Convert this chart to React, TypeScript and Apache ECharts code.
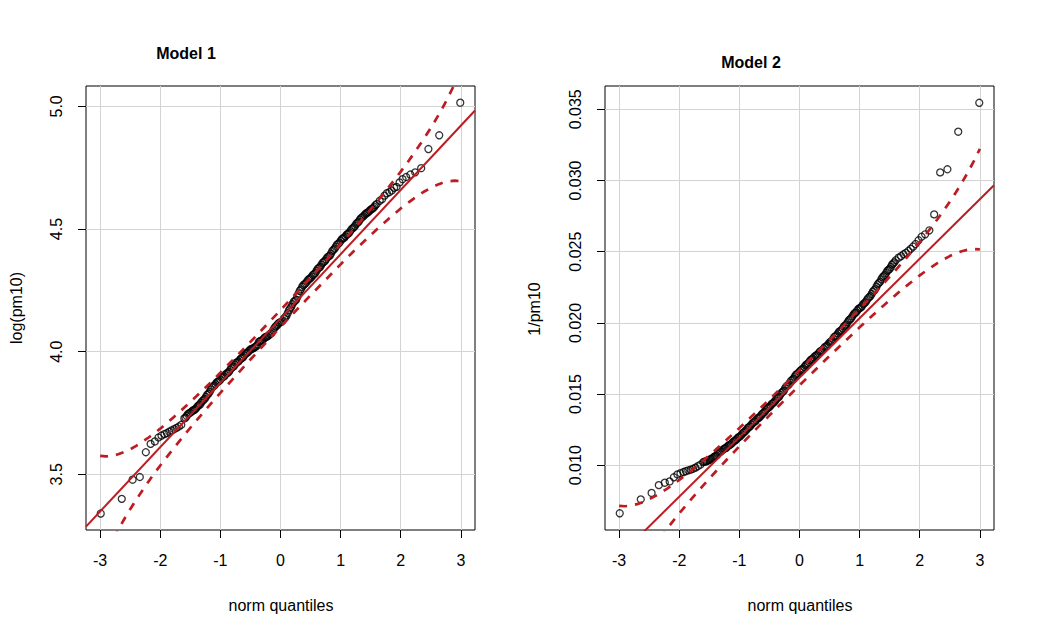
import React, { useEffect, useRef } from "react";
import * as echarts from "echarts";

// ---------- data ----------
const titles = ["Model 1", "Model 2"];
const yAxisNames = ["log(pm10)", "1/pm10"];
const xAxisName = "norm quantiles";

const xTicks = [-3, -2, -1, 0, 1, 2, 3];
const model1YTicks = [3.5, 4.0, 4.5, 5.0];
const model2YTicks = [0.01, 0.015, 0.02, 0.025, 0.03, 0.035];

// theoretical normal quantiles (shared by both panels, same n)
const lowerTailZ = [-2.99, -2.64, -2.46, -2.34, -2.24, -2.16, -2.09, -2.03, -1.98, -1.93, -1.89, -1.85, -1.81, -1.77, -1.73, -1.69, -1.65];
const coreZ = [
  -1.6, -1.58, -1.56, -1.54, -1.52, -1.5, -1.48, -1.46, -1.44, -1.42,
  -1.4, -1.38, -1.36, -1.34, -1.32, -1.3, -1.28, -1.26, -1.24, -1.22,
  -1.2, -1.18, -1.16, -1.14, -1.12, -1.1, -1.08, -1.06, -1.04, -1.02,
  -1.0, -0.98, -0.96, -0.94, -0.92, -0.9, -0.88, -0.86, -0.84, -0.82,
  -0.8, -0.78, -0.76, -0.74, -0.72, -0.7, -0.68, -0.66, -0.64, -0.62,
  -0.6, -0.58, -0.56, -0.54, -0.52, -0.5, -0.48, -0.46, -0.44, -0.42,
  -0.4, -0.38, -0.36, -0.34, -0.32, -0.3, -0.28, -0.26, -0.24, -0.22,
  -0.2, -0.18, -0.16, -0.14, -0.12, -0.1, -0.08, -0.06, -0.04, -0.02,
  0.0,
  0.02, 0.04, 0.06, 0.08, 0.1, 0.12, 0.14, 0.16, 0.18, 0.2,
  0.22, 0.24, 0.26, 0.28, 0.3, 0.32, 0.34, 0.36, 0.38, 0.4,
  0.42, 0.44, 0.46, 0.48, 0.5, 0.52, 0.54, 0.56, 0.58, 0.6,
  0.62, 0.64, 0.66, 0.68, 0.7, 0.72, 0.74, 0.76, 0.78, 0.8,
  0.82, 0.84, 0.86, 0.88, 0.9, 0.92, 0.94, 0.96, 0.98, 1.0,
  1.02, 1.04, 1.06, 1.08, 1.1, 1.12, 1.14, 1.16, 1.18, 1.2,
  1.22, 1.24, 1.26, 1.28, 1.3, 1.32, 1.34, 1.36, 1.38, 1.4,
  1.42, 1.44, 1.46, 1.48, 1.5, 1.52, 1.54, 1.56, 1.58, 1.6,
];
const upperTailZ = [1.65, 1.69, 1.73, 1.77, 1.81, 1.85, 1.89, 1.93, 1.98, 2.03, 2.09, 2.16, 2.24, 2.34, 2.46, 2.64, 2.99];

// Model 1: log(pm10), sorted sample
const model1LowerTail = [3.34, 3.4, 3.478, 3.489, 3.59, 3.624, 3.634, 3.65, 3.658, 3.664, 3.668, 3.674, 3.679, 3.684, 3.689, 3.695, 3.702];
const model1Core = [
  3.728, 3.731, 3.738, 3.745, 3.749, 3.751, 3.756, 3.76, 3.762, 3.765,
  3.77, 3.777, 3.781, 3.785, 3.792, 3.799, 3.803, 3.808, 3.816, 3.824,
  3.828, 3.835, 3.846, 3.854, 3.859, 3.862, 3.868, 3.875, 3.878, 3.881,
  3.886, 3.894, 3.897, 3.899, 3.905, 3.911, 3.913, 3.917, 3.925, 3.933,
  3.937, 3.94, 3.947, 3.954, 3.957, 3.96, 3.966, 3.972, 3.975, 3.978,
  3.985, 3.992, 3.995, 3.998, 4.004, 4.009, 4.011, 4.013, 4.016, 4.02,
  4.022, 4.029, 4.04, 4.043, 4.045, 4.047, 4.052, 4.058, 4.06, 4.062,
  4.066, 4.071, 4.074, 4.079, 4.088, 4.097, 4.103, 4.107, 4.113, 4.118,
  4.12,
  4.123, 4.128, 4.136, 4.14, 4.146, 4.157, 4.168, 4.176, 4.183, 4.194,
  4.203, 4.207, 4.212, 4.222, 4.237, 4.248, 4.254, 4.264, 4.271, 4.275,
  4.279, 4.286, 4.293, 4.297, 4.3, 4.306, 4.313, 4.316, 4.321, 4.33,
  4.338, 4.342, 4.346, 4.354, 4.362, 4.366, 4.37, 4.377, 4.385, 4.388,
  4.392, 4.4, 4.41, 4.415, 4.42, 4.428, 4.436, 4.44, 4.444, 4.452,
  4.459, 4.462, 4.465, 4.47, 4.477, 4.48, 4.484, 4.491, 4.499, 4.503,
  4.507, 4.513, 4.521, 4.526, 4.53, 4.538, 4.545, 4.548, 4.552, 4.558,
  4.563, 4.566, 4.569, 4.574, 4.579, 4.582, 4.585, 4.59, 4.597, 4.602,
];
const model1UpperTail = [4.615, 4.622, 4.636, 4.646, 4.65, 4.657, 4.668, 4.672, 4.69, 4.703, 4.712, 4.722, 4.731, 4.748, 4.826, 4.882, 5.015];

// Model 2: 1/pm10, sorted sample
const model2LowerTail = [0.00662, 0.0076, 0.00805, 0.0086, 0.00877, 0.00886, 0.00915, 0.00935, 0.00944, 0.00952, 0.00958, 0.00964, 0.00969, 0.00975, 0.00983, 0.00993, 0.01003];
const model2Core = [
  0.01022, 0.01025, 0.01027, 0.01029, 0.01033, 0.01038, 0.01042, 0.01045, 0.01052, 0.01059,
  0.01063, 0.01068, 0.01079, 0.01089, 0.01095, 0.01099, 0.01107, 0.01114, 0.01118, 0.01122,
  0.01131, 0.01139, 0.01143, 0.01147, 0.01157, 0.01166, 0.01172, 0.01176, 0.01186, 0.01195,
  0.012, 0.01205, 0.01216, 0.01227, 0.01233, 0.01239, 0.01251, 0.01262, 0.01268, 0.01273,
  0.01285, 0.01296, 0.01302, 0.01307, 0.01317, 0.01328, 0.01333, 0.01338, 0.0135, 0.01361,
  0.01368, 0.01374, 0.01387, 0.01398, 0.01404, 0.01409, 0.0142, 0.01431, 0.01437, 0.01443,
  0.01455, 0.01467, 0.01474, 0.01481, 0.01495, 0.01508, 0.01516, 0.01524, 0.0154, 0.01553,
  0.0156, 0.01566, 0.0158, 0.01593, 0.016, 0.01607, 0.01622, 0.01634, 0.01641, 0.01646,
  0.01657,
  0.01667, 0.01672, 0.01678, 0.0169, 0.01702, 0.01708, 0.01714, 0.01725, 0.01737, 0.01743,
  0.01748, 0.01758, 0.01767, 0.01772, 0.01777, 0.01787, 0.01798, 0.01803, 0.01808, 0.01818,
  0.01829, 0.01834, 0.01839, 0.0185, 0.01862, 0.01868, 0.01874, 0.01888, 0.01901, 0.01907,
  0.01913, 0.01926, 0.01938, 0.01944, 0.0195, 0.01962, 0.01975, 0.01982, 0.01989, 0.02004,
  0.02018, 0.02025, 0.02032, 0.02046, 0.0206, 0.02068, 0.02074, 0.02087, 0.02098, 0.02103,
  0.02108, 0.02118, 0.02131, 0.02138, 0.02145, 0.0216, 0.02173, 0.0218, 0.02188, 0.02203,
  0.02219, 0.02228, 0.02237, 0.02254, 0.02271, 0.0228, 0.02289, 0.02305, 0.0232, 0.02328,
  0.02336, 0.0235, 0.02365, 0.02372, 0.02379, 0.02393, 0.02409, 0.02418, 0.02426, 0.0244,
];
const model2UpperTail = [0.02458, 0.02469, 0.02482, 0.02492, 0.02505, 0.0252, 0.02536, 0.02554, 0.0258, 0.02605, 0.02622, 0.0265, 0.02762, 0.03057, 0.03079, 0.03343, 0.03546];

// reference lines (end points at the plot's x limits)
const lineZ = [-3.235, 3.235];
const model1Line = [3.287, 4.983];
const model2Line = [0.00263, 0.02967];

// pointwise confidence envelope
const envelopeZ = [
  -3.0, -2.9, -2.8, -2.7, -2.6, -2.5, -2.4, -2.3, -2.2, -2.1, -2.0, -1.8, -1.6, -1.4, -1.2, -1.0, -0.5, 0,
  0.5, 1.0, 1.2, 1.4, 1.6, 1.8, 2.0, 2.1, 2.2, 2.3, 2.4, 2.5, 2.6, 2.7, 2.8, 2.9, 3.0,
];
const model1Upper = [
  3.575, 3.573, 3.575, 3.582, 3.591, 3.602, 3.616, 3.632, 3.649, 3.667, 3.686, 3.728, 3.772, 3.818, 3.865, 3.914, 4.04, 4.169,
  4.302, 4.438, 4.494, 4.551, 4.61, 4.671, 4.734, 4.767, 4.802, 4.837, 4.874, 4.912, 4.953, 4.996, 5.043, 5.093, 5.147,
];
const model1Lower = [
  3.123, 3.177, 3.227, 3.274, 3.317, 3.358, 3.396, 3.433, 3.469, 3.503, 3.536, 3.599, 3.66, 3.719, 3.776, 3.832, 3.968, 4.101,
  4.23, 4.356, 4.405, 4.452, 4.498, 4.542, 4.584, 4.603, 4.621, 4.638, 4.654, 4.668, 4.679, 4.689, 4.695, 4.697, 4.695,
];
const model2Upper = [
  0.007139, 0.007117, 0.007163, 0.007267, 0.007418, 0.007609, 0.007833, 0.008085, 0.00836, 0.008655, 0.008967, 0.00963, 0.010336,
  0.011073, 0.011834, 0.012613, 0.014619, 0.016684, 0.018799, 0.020973, 0.021866, 0.022777, 0.023712, 0.024678, 0.025687,
  0.026211, 0.026752, 0.027313, 0.027897, 0.028509, 0.029154, 0.029839, 0.030571, 0.031361, 0.032219,
];
const model2Lower = [
  0.000081, 0.000939, 0.001729, 0.002461, 0.003146, 0.003791, 0.004403, 0.004987, 0.005548, 0.006089, 0.006613, 0.007622, 0.008588,
  0.009523, 0.010434, 0.011327, 0.013501, 0.015616, 0.017681, 0.019687, 0.020466, 0.021227, 0.021964, 0.02267, 0.023333,
  0.023645, 0.02394, 0.024215, 0.024467, 0.024691, 0.024882, 0.025033, 0.025137, 0.025183, 0.025161,
];

// ---------- chart ----------
const FONT = '"Liberation Sans", Arial, sans-serif';
const RED = "#BC1C22";
const GRID_GRAY = "#d3d3d3";

const normQuantiles = [...lowerTailZ, ...coreZ, ...upperTailZ];
const model1Sample = [...model1LowerTail, ...model1Core, ...model1UpperTail];
const model2Sample = [...model2LowerTail, ...model2Core, ...model2UpperTail];

const pairs = (xs: number[], ys: number[]) => xs.map((x, i) => [x, ys[i]]);

function buildOption() {
  const grids = [
    { left: 86, top: 86, width: 389, height: 444 },
    { left: 605, top: 86, width: 389, height: 444 },
  ].map((g) => ({ ...g, show: true, borderColor: "#000", borderWidth: 1, backgroundColor: "transparent" }));

  const xAxisFor = (gi: number) => ({
    type: "value",
    gridIndex: gi,
    min: -3.235,
    max: 3.235,
    axisLine: { show: false, onZero: false },
    axisTick: { show: true, length: 8, lineStyle: { color: "#000", width: 1 }, customValues: xTicks },
    axisLabel: {
      customValues: xTicks,
      fontSize: 16,
      fontFamily: FONT,
      color: "#000",
      margin: 22,
      formatter: (v: number) => String(v),
    },
    splitLine: { show: true, lineStyle: { color: GRID_GRAY, width: 1 } },
  });

  const yAxisFor = (gi: number, min: number, max: number, ticks: number[], digits: number) => ({
    type: "value",
    gridIndex: gi,
    min,
    max,
    axisLine: { show: false, onZero: false },
    axisTick: { show: true, length: 8, lineStyle: { color: "#000", width: 1 }, customValues: ticks },
    axisLabel: {
      customValues: ticks,
      rotate: 90,
      fontSize: 16,
      fontFamily: FONT,
      color: "#000",
      margin: 22,
      formatter: (v: number) => v.toFixed(digits),
    },
    splitLine: { show: true, lineStyle: { color: GRID_GRAY, width: 1 } },
  });

  const panel = (gi: number, sample: number[], line: number[], upper: number[], lower: number[]) => [
    {
      type: "scatter",
      xAxisIndex: gi,
      yAxisIndex: gi,
      data: pairs(normQuantiles, sample),
      symbol: "circle",
      symbolSize: 7,
      itemStyle: { color: "transparent", borderColor: "#000", borderWidth: 1.3 },
      z: 2,
      silent: true,
    },
    {
      type: "line",
      xAxisIndex: gi,
      yAxisIndex: gi,
      data: pairs(lineZ, line),
      symbol: "none",
      lineStyle: { color: RED, width: 2 },
      z: 3,
      silent: true,
    },
    {
      type: "line",
      xAxisIndex: gi,
      yAxisIndex: gi,
      data: pairs(envelopeZ, upper),
      symbol: "none",
      lineStyle: { color: RED, width: 2.7, type: [8, 8], cap: "butt" },
      z: 3,
      silent: true,
    },
    {
      type: "line",
      xAxisIndex: gi,
      yAxisIndex: gi,
      data: pairs(envelopeZ, lower),
      symbol: "none",
      lineStyle: { color: RED, width: 2.7, type: [8, 8], cap: "butt" },
      z: 3,
      silent: true,
    },
  ];

  const text = (t: string, x: number, y: number, font: string, rotation = 0) => ({
    type: "text",
    x,
    y,
    rotation,
    silent: true,
    style: { text: t, font, fill: "#000", align: "center", verticalAlign: "middle" },
  });

  return {
    animation: false,
    backgroundColor: "#fff",
    grid: grids,
    xAxis: [xAxisFor(0), xAxisFor(1)],
    yAxis: [
      yAxisFor(0, 3.273, 5.083, model1YTicks, 1),
      yAxisFor(1, 0.005448, 0.03664, model2YTicks, 3),
    ],
    series: [
      ...panel(0, model1Sample, model1Line, model1Upper, model1Lower),
      ...panel(1, model2Sample, model2Line, model2Upper, model2Lower),
    ],
    graphic: [
      text(titles[0], 186, 53, `bold 16px ${FONT}`),
      text(titles[1], 751, 62, `bold 16px ${FONT}`),
      text(yAxisNames[0], 16, 308, `16px ${FONT}`, Math.PI / 2),
      text(yAxisNames[1], 534, 309, `16px ${FONT}`, Math.PI / 2),
      text(xAxisName, 281, 605, `16px ${FONT}`),
      text(xAxisName, 800, 605, `16px ${FONT}`),
    ],
  };
}

export default function App() {
  const ref = useRef<HTMLDivElement>(null);
  useEffect(() => {
    if (!ref.current) return;
    const chart = echarts.init(ref.current, null, { renderer: "svg" });
    chart.setOption(buildOption() as any);
    return () => chart.dispose();
  }, []);
  return (
    <div
      ref={ref}
      style={{ position: "absolute", left: 0, top: 0, width: 1054, height: 634, background: "#fff" }}
    />
  );
}
